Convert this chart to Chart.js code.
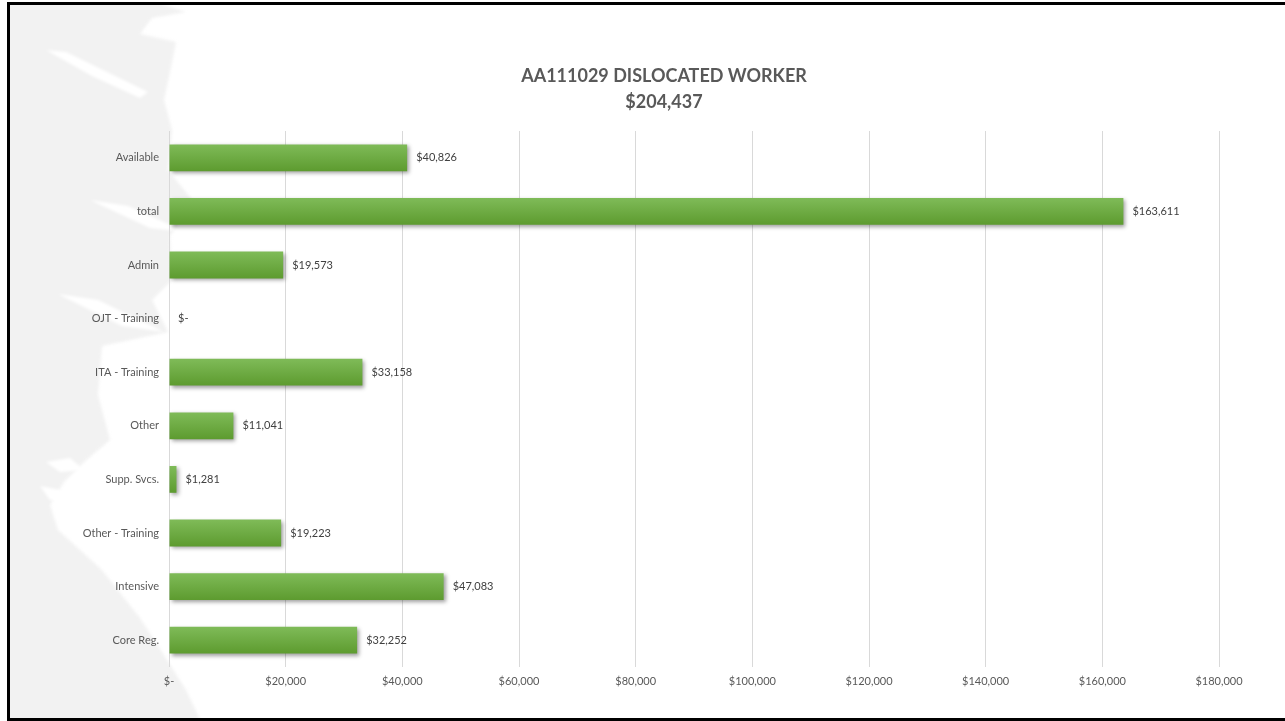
<!DOCTYPE html>
<html>
<head>
<meta charset="utf-8">
<title>AA111029 Dislocated Worker</title>
<script src="https://cdn.jsdelivr.net/npm/chart.js@4.4.1/dist/chart.umd.min.js"></script>
<style>
  html, body { margin: 0; padding: 0; background: #ffffff; }
  canvas { display: block; }
</style>
</head>
<body>
<canvas id="chart-1" width="1285" height="721"></canvas>
<script>
const categories = [
  "Available",
  "total",
  "Admin",
  "OJT - Training",
  "ITA - Training",
  "Other",
  "Supp. Svcs.",
  "Other - Training",
  "Intensive",
  "Core Reg.",
];
const amounts = [40826, 163611, 19573, 0, 33158, 11041, 1281, 19223, 47083, 32252];
const xTicks = [0, 20000, 40000, 60000, 80000, 100000, 120000, 140000, 160000, 180000];
const titleLines = ["AA111029 DISLOCATED WORKER", "$204,437"];

const textGrey = "#595959";
const fontFamily = "Lato, 'Open Sans', sans-serif";

const money = (v) => (v === 0 ? "$-" : "$" + v.toLocaleString("en-US"));

// closed polygon through a list of points
function shape(ctx, pts) {
  ctx.beginPath();
  pts.forEach(([x, y], i) => (i ? ctx.lineTo(x, y) : ctx.moveTo(x, y)));
  ctx.closePath();
  ctx.fill();
}

// light brush stroke down the left side of the frame
const backdrop = {
  id: "backdrop",
  beforeDraw(chart) {
    const ctx = chart.ctx;
    ctx.save();
    ctx.fillStyle = "#ffffff";
    ctx.fillRect(0, 0, chart.width, chart.height);

    ctx.beginPath();
    ctx.rect(10, 5, chart.width - 10, chart.height - 8);
    ctx.clip();
    ctx.filter = "blur(1.5px)";

    ctx.fillStyle = "#f2f2f2";
    shape(ctx, [
      [-20, -10], [150, 0], [186, 12], [152, 18], [140, 34], [176, 42],
      [170, 72], [164, 100], [172, 130], [168, 170], [194, 202], [170, 236],
      [172, 280], [152, 300], [168, 332], [102, 346], [98, 395], [110, 440],
      [84, 462], [64, 482], [50, 505], [58, 530], [102, 570], [140, 618],
      [162, 652], [186, 690], [210, 740], [-20, 740],
    ]);

    // white streaks cutting through the stroke
    ctx.fillStyle = "#ffffff";
    [
      [[46, 50], [66, 52], [148, 92], [140, 98], [92, 76]],
      [[90, 200], [128, 206], [186, 232], [150, 228]],
      [[58, 294], [98, 300], [164, 332], [122, 326]],
      [[46, 462], [70, 458], [84, 470], [60, 472]],
      [[40, 486], [60, 490], [66, 502], [50, 500]],
    ].forEach((pts) => shape(ctx, pts));
    ctx.restore();
  },
  afterDraw(chart) {
    const ctx = chart.ctx;
    ctx.save();
    ctx.strokeStyle = "#000000";
    ctx.lineWidth = 3;
    ctx.strokeRect(8.5, 3.5, chart.width + 10, chart.height - 5);

    ctx.fillStyle = textGrey;
    ctx.font = "bold 18px " + fontFamily;
    ctx.textAlign = "center";
    ctx.textBaseline = "middle";
    titleLines.forEach((line, i) => ctx.fillText(line, 664, 76 + i * 26));
    ctx.restore();
  },
};

// drop shadow under the bars
const barShadow = {
  id: "barShadow",
  beforeDatasetsDraw(chart) {
    const ctx = chart.ctx;
    ctx.save();
    ctx.shadowColor = "rgba(0, 0, 0, 0.38)";
    ctx.shadowBlur = 4;
    ctx.shadowOffsetX = 2;
    ctx.shadowOffsetY = 2;
  },
  afterDatasetsDraw(chart) {
    chart.ctx.restore();
  },
};

// value labels just past the end of each bar
const valueLabels = {
  id: "valueLabels",
  afterDatasetsDraw(chart) {
    const ctx = chart.ctx;
    const meta = chart.getDatasetMeta(0);
    ctx.save();
    ctx.fillStyle = "#404040";
    ctx.font = "11px " + fontFamily;
    ctx.textAlign = "left";
    ctx.textBaseline = "middle";
    meta.data.forEach((bar, i) => {
      ctx.fillText(money(amounts[i]), bar.x + 9, bar.y);
    });
    ctx.restore();
  },
};

const barFill = (context) => {
  const chart = context.chart;
  const yScale = chart.scales.y;
  if (!chart.chartArea || !yScale) return "#6aab3e";
  const y = yScale.getPixelForValue(context.dataIndex);
  const half = (yScale.height / categories.length) * 0.25;
  const g = chart.ctx.createLinearGradient(0, y - half, 0, y + half);
  g.addColorStop(0, "#7fbb58");
  g.addColorStop(1, "#5d9b2f");
  return g;
};

new Chart(document.querySelector("#chart-1"), {
  type: "bar",
  data: {
    labels: categories,
    datasets: [
      {
        data: amounts,
        backgroundColor: barFill,
        borderWidth: 0,
        barPercentage: 0.5,
        categoryPercentage: 1,
      },
    ],
  },
  options: {
    indexAxis: "y",
    responsive: false,
    animation: false,
    layout: {
      padding: { left: 10, top: 131, right: 66, bottom: 24 },
    },
    plugins: {
      legend: { display: false },
      title: { display: false },
      tooltip: { enabled: false },
    },
    scales: {
      x: {
        min: 0,
        max: 180000,
        afterBuildTicks: (scale) => {
          scale.ticks = xTicks.map((v) => ({ value: v }));
        },
        afterFit: (scale) => {
          scale.height = 30;
        },
        grid: { color: "#d9d9d9", drawTicks: false },
        border: { display: false },
        ticks: {
          padding: 8,
          color: textGrey,
          font: { family: fontFamily, size: 11 },
          callback: (v) => money(v),
        },
      },
      y: {
        afterFit: (scale) => {
          scale.width = 159;
        },
        grid: { display: false, drawTicks: false },
        border: { display: false },
        ticks: {
          padding: 10,
          color: textGrey,
          font: { family: fontFamily, size: 11 },
        },
      },
    },
  },
  plugins: [backdrop, barShadow, valueLabels],
});
</script>
</body>
</html>
